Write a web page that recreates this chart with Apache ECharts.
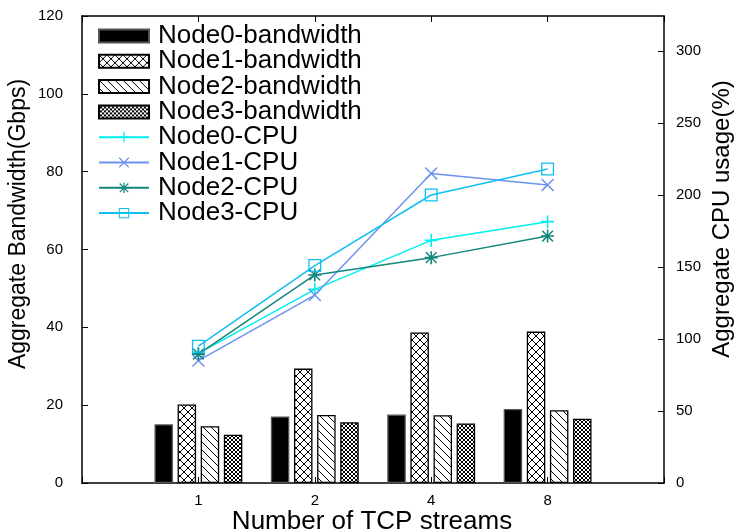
<!DOCTYPE html>
<html>
<head>
<meta charset="utf-8">
<script src="https://cdn.jsdelivr.net/npm/echarts@6/dist/echarts.min.js"></script>
<style>
html,body{margin:0;padding:0;background:#fff;}
#chart{width:737px;height:531px;}
</style>
</head>
<body>
<div id="chart"></div>
<script>
// ---- data ----
var categories = ['1', '2', '4', '8'];
var node0Bandwidth = [15.1, 17.1, 17.6, 19.0];
var node1Bandwidth = [20.2, 29.4, 38.7, 38.9];
var node2Bandwidth = [14.6, 17.5, 17.4, 18.7];
var node3Bandwidth = [12.4, 15.6, 15.3, 16.5];
var node0CPU = [90, 134.5, 168.5, 181.5];
var node1CPU = [85, 130.5, 215, 207];
var node2CPU = [89.5, 144.5, 156.5, 171.5];
var node3CPU = [95, 151, 200, 218];
var leftTicks = [0, 20, 40, 60, 80, 100, 120];
var rightTicks = [0, 50, 100, 150, 200, 250, 300];

// padded categories so the points sit one unit in from each side
var xCats = [''].concat(categories, ['']);
function pad(arr) { return [null].concat(arr, [null]); }

// ---- patterns ----
function makePattern(kind) {
  var s = kind === 'dense' ? 4 : 8;
  var c = document.createElement('canvas');
  c.width = s; c.height = s;
  var ctx = c.getContext('2d');
  ctx.fillStyle = '#ffffff';
  ctx.fillRect(0, 0, s, s);
  ctx.strokeStyle = '#000000';
  ctx.lineWidth = 1;
  for (var o = -s; o <= s; o += s) {
    ctx.beginPath();
    ctx.moveTo(o, 0); ctx.lineTo(o + s, s);
    ctx.stroke();
    if (kind !== 'diag') {
      ctx.beginPath();
      ctx.moveTo(o + s, 0); ctx.lineTo(o, s);
      ctx.stroke();
    }
  }
  return { image: c, repeat: 'repeat' };
}

var FONT = 'Liberation Sans, Arial, Helvetica, sans-serif';

var plusPath = 'path://M0,4.4H10V5.6H0Z M4.4,0H5.6V10H4.4Z';
var xPath = 'path://M0.8,0L10,9.2L9.2,10L0,0.8Z M9.2,0L10,0.8L0.8,10L0,9.2Z';
var starPath = 'path://M0,4.4H10V5.6H0Z M4.4,0H5.6V10H4.4Z M1.3,0.5L9.5,8.7L8.7,9.5L0.5,1.3Z M8.7,0.5L9.5,1.3L1.3,9.5L0.5,8.7Z';
var squarePath = 'path://M0,0H10V10H0Z M1,1V9H9V1Z';

function barSeries(name, data, color, border) {
  return {
    name: name, type: 'bar', data: pad(data),
    barWidth: 18.5, barGap: '25%',
    itemStyle: { color: color, borderColor: border, borderWidth: 1.3 },
    emphasis: { disabled: true }
  };
}
function lineSeries(name, data, color, symbol, size) {
  return {
    name: name, type: 'line', yAxisIndex: 1, data: pad(data),
    symbol: symbol, symbolSize: size, showSymbol: true,
    lineStyle: { color: color, width: 1.5 },
    itemStyle: { color: color },
    emphasis: { disabled: true }, z: 5
  };
}

var tickStyle = { show: true, inside: true, length: 6, lineStyle: { color: '#000', width: 1 } };

var chart = echarts.init(document.getElementById('chart'), null, { renderer: 'canvas' });
chart.setOption({
  animation: false,
  backgroundColor: '#ffffff',
  grid: { left: 82, right: 73, top: 16, bottom: 48, containLabel: false },
  legend: {
    orient: 'vertical', left: 98, top: 23, padding: 0,
    itemWidth: 50, itemHeight: 13, itemGap: -0.7,
    textStyle: { fontSize: 26, fontFamily: FONT, color: '#000', lineHeight: 24, padding: [0, 0, 0, 4] },
    data: [
      { name: 'Node0-bandwidth', icon: 'rect' },
      { name: 'Node1-bandwidth', icon: 'rect' },
      { name: 'Node2-bandwidth', icon: 'rect' },
      { name: 'Node3-bandwidth', icon: 'rect' },
      { name: 'Node0-CPU' },
      { name: 'Node1-CPU' },
      { name: 'Node2-CPU' },
      { name: 'Node3-CPU' }
    ]
  },
  xAxis: [{
    type: 'category', data: xCats, boundaryGap: false, position: 'bottom',
    axisLine: { onZero: false, lineStyle: { color: '#000', width: 1.5 } },
    axisTick: tickStyle,
    axisLabel: { fontSize: 15, fontFamily: FONT, color: '#000', margin: 10 },
    splitLine: { show: false }
  }, {
    type: 'category', data: xCats, boundaryGap: false, position: 'top',
    axisLine: { onZero: false, lineStyle: { color: '#000', width: 1.5 } },
    axisTick: tickStyle,
    axisLabel: { show: false },
    splitLine: { show: false }
  }],
  yAxis: [{
    type: 'value', min: leftTicks[0], max: leftTicks[leftTicks.length - 1], interval: 20,
    axisLine: { show: true, onZero: false, lineStyle: { color: '#000', width: 1.5 } },
    axisTick: tickStyle,
    axisLabel: { fontSize: 15, fontFamily: FONT, color: '#000', margin: 19 },
    splitLine: { show: false }
  }, {
    type: 'value', position: 'right', min: rightTicks[0], max: 324.3, interval: 50,
    axisLine: { show: true, onZero: false, lineStyle: { color: '#000', width: 1.5 } },
    axisTick: tickStyle,
    axisLabel: { fontSize: 15, fontFamily: FONT, color: '#000', margin: 12, showMaxLabel: false },
    splitLine: { show: false }
  }],
  graphic: [
    { type: 'text', x: 19, y: 224, rotation: Math.PI / 2,
      style: { text: 'Aggregate Bandwidth(Gbps)', fontSize: 23, fontFamily: FONT, fill: '#000', align: 'center', verticalAlign: 'middle' } },
    { type: 'text', x: 722, y: 219, rotation: Math.PI / 2,
      style: { text: 'Aggregate CPU usage(%)', fontSize: 24, fontFamily: FONT, fill: '#000', align: 'center', verticalAlign: 'middle' } },
    { type: 'text', x: 372, y: 522,
      style: { text: 'Number of TCP streams', fontSize: 26, fontFamily: FONT, fill: '#000', align: 'center', verticalAlign: 'middle' } }
  ],
  series: [
    barSeries('Node0-bandwidth', node0Bandwidth, '#000000', '#555555'),
    barSeries('Node1-bandwidth', node1Bandwidth, makePattern('cross'), '#000000'),
    barSeries('Node2-bandwidth', node2Bandwidth, makePattern('diag'), '#000000'),
    barSeries('Node3-bandwidth', node3Bandwidth, makePattern('dense'), '#000000'),
    lineSeries('Node0-CPU', node0CPU, '#00eeee', plusPath, 13),
    lineSeries('Node1-CPU', node1CPU, '#6d92ee', xPath, 13),
    lineSeries('Node2-CPU', node2CPU, '#13877e', starPath, 13),
    lineSeries('Node3-CPU', node3CPU, '#10bff0', squarePath, 13)
  ]
});
</script>
</body>
</html>
